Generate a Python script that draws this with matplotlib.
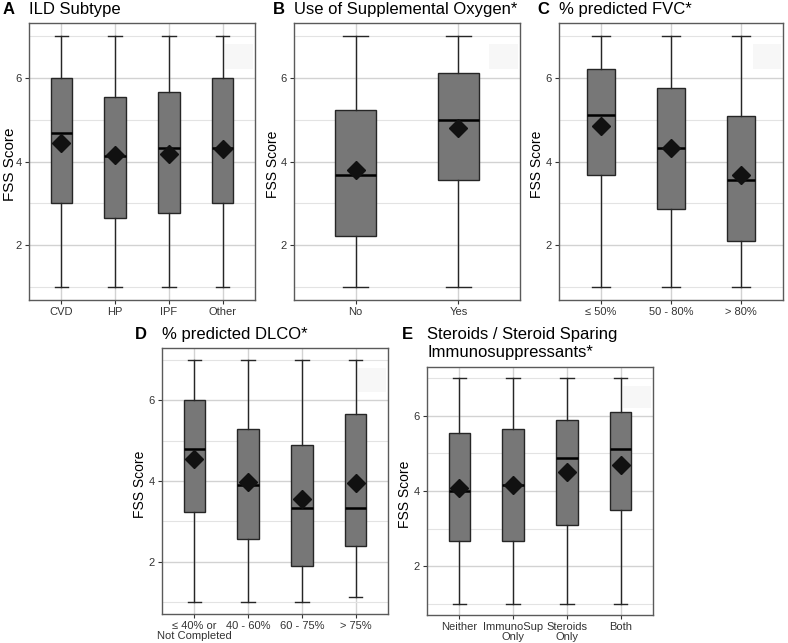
import matplotlib
matplotlib.use("Agg")
import matplotlib.pyplot as plt
from matplotlib.ticker import MultipleLocator

plt.rcParams['font.family'] = ['Liberation Sans', 'DejaVu Sans']

W, H = 788, 643

# panel A - ILD subtype
A_labels = ["CVD", "HP", "IPF", "Other"]
A_lo = [1, 1, 1, 1]
A_q1 = [3.0, 2.66, 2.77, 3.0]
A_med = [4.67, 4.12, 4.33, 4.33]
A_q3 = [6.0, 5.54, 5.66, 6.0]
A_hi = [7, 7, 7, 7]
A_mean = [4.45, 4.16, 4.19, 4.30]

# panel B - supplemental oxygen
B_labels = ["No", "Yes"]
B_lo = [1, 1]
B_q1 = [2.22, 3.55]
B_med = [3.67, 5.0]
B_q3 = [5.22, 6.12]
B_hi = [7, 7]
B_mean = [3.80, 4.79]

# panel C - % predicted FVC
C_labels = ["≤ 50%", "50 - 80%", "> 80%"]
C_lo = [1, 1, 1]
C_q1 = [3.67, 2.88, 2.10]
C_med = [5.10, 4.33, 3.55]
C_q3 = [6.21, 5.76, 5.09]
C_hi = [7, 7, 7]
C_mean = [4.84, 4.31, 3.68]

# panel D - % predicted DLCO
D_labels = ["≤ 40% or\nNot Completed", "40 - 60%", "60 - 75%", "> 75%"]
D_lo = [1, 1, 1, 1.12]
D_q1 = [3.23, 2.55, 1.88, 2.39]
D_med = [4.79, 3.90, 3.33, 3.33]
D_q3 = [6.0, 5.30, 4.90, 5.67]
D_hi = [7, 7, 7, 7]
D_mean = [4.55, 3.98, 3.56, 3.96]

# panel E - steroids / immunosuppressants
E_labels = ["Neither", "ImmunoSup\nOnly", "Steroids\nOnly", "Both"]
E_lo = [1, 1, 1, 1]
E_q1 = [2.66, 2.66, 3.10, 3.50]
E_med = [4.00, 4.16, 4.89, 5.11]
E_q3 = [5.55, 5.66, 5.89, 6.11]
E_hi = [7, 7, 7, 7]
E_mean = [4.07, 4.16, 4.50, 4.70]


def rect(l, t, r, b):
    return [l / W, 1 - b / H, (r - l) / W, (b - t) / H]


def ftext(x, y, s, **kw):
    fig.text(x / W, 1 - y / H, s, **kw)


def panel(box, labels, lo, q1, med, q3, hi, mean, ylab_x, ylab_size=10):
    ax = fig.add_axes(rect(*box))
    stats = []
    for i in range(len(labels)):
        stats.append(dict(whislo=lo[i], q1=q1[i], med=med[i], q3=q3[i],
                          whishi=hi[i], mean=mean[i], fliers=[]))
    ax.bxp(stats, positions=range(len(labels)), widths=0.4, capwidths=0.25,
           patch_artist=True, showmeans=True, zorder=3,
           boxprops=dict(facecolor='#777777', edgecolor='#262626', linewidth=1.0),
           whiskerprops=dict(color='#262626', linewidth=1.0),
           capprops=dict(color='#262626', linewidth=1.0),
           medianprops=dict(color='black', linewidth=1.8),
           meanprops=dict(marker='D', markerfacecolor='#111111',
                          markeredgecolor='#111111', markersize=9))
    ax.set_xlim(-0.6, len(labels) - 0.4)
    ax.set_ylim(0.7, 7.3)
    ax.set_xticks(range(len(labels)))
    ax.set_xticklabels(labels, fontsize=8, color='#333333', linespacing=1.0)
    ax.yaxis.set_major_locator(MultipleLocator(2))
    ax.yaxis.set_minor_locator(MultipleLocator(1))
    ax.tick_params(axis='y', which='minor', length=0)
    ax.tick_params(which='major', length=3, width=0.8, color='#333333',
                   labelsize=8, labelcolor='#333333', pad=2)
    ax.grid(True, which='major', color='#d2d2d2', linewidth=1.0, zorder=0)
    ax.grid(True, which='minor', axis='y', color='#e3e3e3', linewidth=0.8, zorder=0)
    ax.set_axisbelow(True)
    for sp in ax.spines.values():
        sp.set_color('#5a5a5a')
        sp.set_linewidth(1.0)
    # faint legend key remnant in the corner
    ax.add_patch(plt.Rectangle((0.865, 0.835), 0.125, 0.09, transform=ax.transAxes,
                               facecolor='#f7f7f7', edgecolor='none', zorder=1))
    l, t, r, b = box
    ftext(ylab_x, (t + b) / 2 + 3, "FSS Score", rotation=90, ha='center', va='center',
          fontsize=ylab_size, color='black')
    return ax


fig = plt.figure(figsize=(W / 100, H / 100), dpi=100)

panel((29, 23, 255, 300), A_labels, A_lo, A_q1, A_med, A_q3, A_hi, A_mean, 10, 11)
panel((294, 23, 520, 300), B_labels, B_lo, B_q1, B_med, B_q3, B_hi, B_mean, 273)
panel((559, 23, 783, 300), C_labels, C_lo, C_q1, C_med, C_q3, C_hi, C_mean, 537)
panel((162, 348, 388, 614), D_labels, D_lo, D_q1, D_med, D_q3, D_hi, D_mean, 140)
panel((427, 367, 653, 615), E_labels, E_lo, E_q1, E_med, E_q3, E_hi, E_mean, 405)

# panel titles
ttl = dict(fontsize=12, va='baseline', ha='left')
ftext(3, 14, "A", fontweight='bold', **ttl)
ftext(29, 14, "ILD Subtype", **ttl)
ftext(273, 14, "B", fontweight='bold', **ttl)
ftext(294, 14, "Use of Supplemental Oxygen*", **ttl)
ftext(537, 14, "C", fontweight='bold', **ttl)
ftext(559, 14, "% predicted FVC*", **ttl)
ftext(135, 339, "D", fontweight='bold', **ttl)
ftext(162, 339, "% predicted DLCO*", **ttl)
ftext(402, 339, "E", fontweight='bold', **ttl)
ftext(427, 339, "Steroids / Steroid Sparing", **ttl)
ftext(427, 357, "Immunosuppressants*", **ttl)

fig.savefig("out.png", dpi=100)
